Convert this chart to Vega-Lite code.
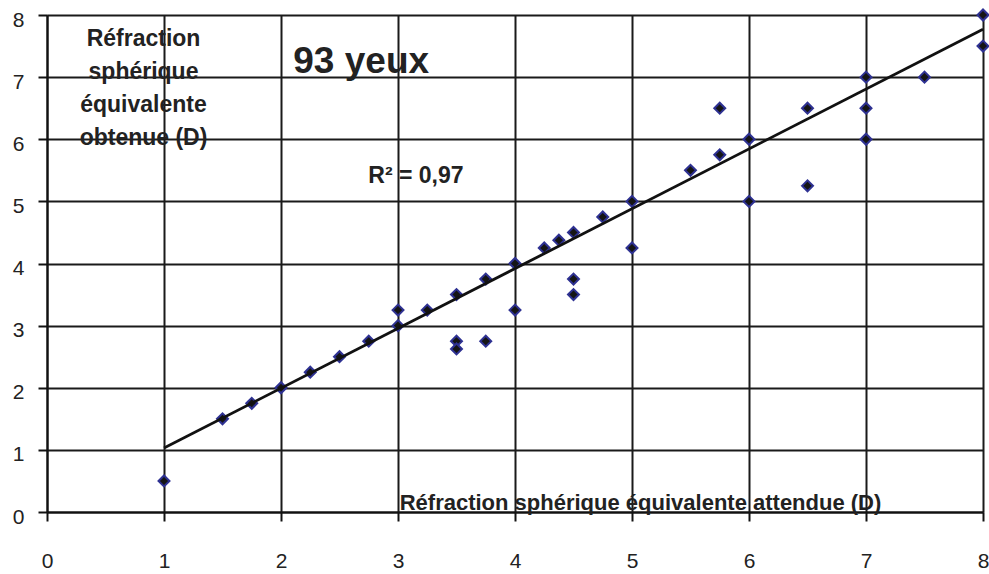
{
  "$schema": "https://vega.github.io/schema/vega-lite/v6.json",
  "width": 936,
  "height": 497,
  "autosize": "none",
  "padding": {"left": 47, "top": 15, "right": 6, "bottom": 62},
  "background": "white",
  "config": {"view": {"stroke": null}, "font": "Liberation Sans"},
  "datasets": {
    "points": [
      {"x": 1, "y": 0.5}, {"x": 1.5, "y": 1.5}, {"x": 1.75, "y": 1.75}, {"x": 2, "y": 2},
      {"x": 2.25, "y": 2.25}, {"x": 2.5, "y": 2.5}, {"x": 2.75, "y": 2.75}, {"x": 3, "y": 3},
      {"x": 3, "y": 3.25}, {"x": 3.25, "y": 3.25}, {"x": 3.5, "y": 3.5}, {"x": 3.5, "y": 2.75},
      {"x": 3.5, "y": 2.625}, {"x": 3.75, "y": 2.75}, {"x": 3.75, "y": 3.75}, {"x": 4, "y": 4},
      {"x": 4, "y": 3.25}, {"x": 4.25, "y": 4.25}, {"x": 4.375, "y": 4.375}, {"x": 4.5, "y": 4.5},
      {"x": 4.5, "y": 3.75}, {"x": 4.5, "y": 3.5}, {"x": 4.75, "y": 4.75}, {"x": 5, "y": 5},
      {"x": 5, "y": 4.25}, {"x": 5.5, "y": 5.5}, {"x": 5.75, "y": 5.75}, {"x": 5.75, "y": 6.5},
      {"x": 6, "y": 6}, {"x": 6, "y": 5}, {"x": 6.5, "y": 6.5}, {"x": 6.5, "y": 5.25},
      {"x": 7, "y": 7}, {"x": 7, "y": 6.5}, {"x": 7, "y": 6}, {"x": 7.5, "y": 7},
      {"x": 8, "y": 8}, {"x": 8, "y": 7.5}
    ],
    "trend": [{"x": 1, "y": 1.03}, {"x": 8, "y": 7.77}]
  },
  "layer": [
    {
      "data": {"name": "points"},
      "mark": {"type": "point", "shape": "diamond", "filled": true, "fill": "#151515", "stroke": "#2e3192", "strokeWidth": 2, "size": 120, "opacity": 1},
      "encoding": {
        "x": {
          "field": "x", "type": "quantitative",
          "scale": {"domain": [0, 8], "nice": false},
          "axis": {
            "values": [0, 1, 2, 3, 4, 5, 6, 7, 8], "format": "d",
            "grid": true, "gridColor": "#1a1a1a", "gridWidth": 2,
            "domainColor": "#111", "domainWidth": 2,
            "tickColor": "#111", "tickWidth": 2, "tickSize": 9,
            "labelFontSize": 21, "labelColor": "#222", "labelPadding": 29,
            "labelFlush": false, "labelOverlap": false,
            "title": "Réfraction sphérique équivalente attendue (D)",
            "titleFontSize": 22, "titleFontWeight": "bold", "titleColor": "#222",
            "titleX": 593, "titleY": -3, "titleBaseline": "alphabetic", "titleAlign": "center"
          }
        },
        "y": {
          "field": "y", "type": "quantitative",
          "scale": {"domain": [0, 8], "nice": false},
          "axis": {
            "values": [0, 1, 2, 3, 4, 5, 6, 7, 8], "format": "d",
            "grid": true, "gridColor": "#1a1a1a", "gridWidth": 2,
            "domainColor": "#111", "domainWidth": 2,
            "tickColor": "#111", "tickWidth": 2, "tickSize": 9,
            "labelFontSize": 21, "labelColor": "#222", "labelPadding": 14, "labelOffset": 5,
            "labelFlush": false, "labelOverlap": false,
            "title": ["Réfraction", "sphérique", "équivalente", "obtenue (D)"],
            "titleFontSize": 23, "titleFontWeight": "bold", "titleColor": "#222",
            "titleAngle": 0, "titleX": 96, "titleY": 30, "titleBaseline": "alphabetic",
            "titleAlign": "center", "titleLineHeight": 33
          }
        }
      }
    },
    {
      "data": {"name": "trend"},
      "mark": {"type": "line", "color": "#111", "strokeWidth": 2.8},
      "encoding": {
        "x": {"field": "x", "type": "quantitative"},
        "y": {"field": "y", "type": "quantitative"}
      }
    },
    {
      "data": {"values": [{}]},
      "mark": {"type": "text", "text": "93 yeux", "fontSize": 37, "fontWeight": "bold", "color": "#222", "align": "left", "baseline": "alphabetic"},
      "encoding": {"x": {"datum": 2.105, "type": "quantitative"}, "y": {"datum": 7.07, "type": "quantitative"}}
    },
    {
      "data": {"values": [{}]},
      "mark": {"type": "text", "text": "R² = 0,97", "fontSize": 23, "fontWeight": "bold", "color": "#222", "align": "left", "baseline": "alphabetic"},
      "encoding": {"x": {"datum": 2.746, "type": "quantitative"}, "y": {"datum": 5.3, "type": "quantitative"}}
    }
  ]
}
